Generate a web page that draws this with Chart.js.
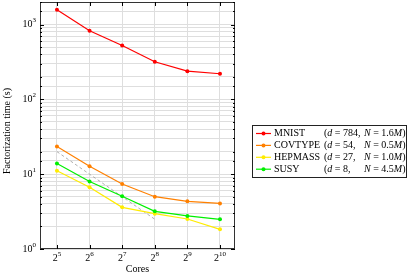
<!DOCTYPE html>
<html>
<head>
<meta charset="utf-8">
<script src="https://cdn.jsdelivr.net/npm/chart.js@4"></script>
<style>
  html, body { margin: 0; padding: 0; background: #fff; }
  #wrap { width: 415px; height: 276px; position: relative; }
</style>
</head>
<body>
<div id="wrap"><canvas id="chart" width="415" height="276"></canvas></div>
<script>
// cores are 2^n, n below
var coreExps = [5, 6, 7, 8, 9, 10];
var mnist   = [1570, 824, 525, 318, 238, 220];
var covtype = [23.4, 12.8, 7.4, 5.0, 4.33, 4.07];
var hepmass = [11.1, 6.7, 3.6, 2.97, 2.52, 1.83];
var susy    = [13.9, 8.0, 5.07, 3.19, 2.77, 2.49];
// ideal linear scaling reference
var idealExps = [5, 8];
var ideal     = [20, 2.5];
var yTickLabels = [1, 10, 100, 1000];

var seriesNames = ["MNIST", "COVTYPE", "HEPMASS", "SUSY"];
var seriesD = ["784", "54", "27", "8"];
var seriesN = ["1.6", "0.5", "1.0", "4.5"];
var seriesColors = ["rgb(255,0,0)", "rgb(255,128,0)", "rgb(255,236,0)", "rgb(0,240,0)"];

var SERIF = "'Liberation Serif', 'Times New Roman', serif";

function pts(xs, ys) {
   var out = [];
   for (var i = 0; i < xs.length; i++) out.push({ x: xs[i], y: ys[i] });
   return out;
}

function lineSet(label, data, color, order) {
   return {
      label: label,
      data: data,
      borderColor: color,
      backgroundColor: color,
      borderWidth: 1.2,
      pointRadius: 2,
      pointHoverRadius: 2,
      pointBorderWidth: 0,
      tension: 0,
      order: order
   };
}

// draw "base^exp" text, anchored by align at x
function drawPower(ctx, base, exp, x, y, align) {
   ctx.font = "10px " + SERIF;
   var wb = ctx.measureText(base).width;
   ctx.font = "7px " + SERIF;
   var we = ctx.measureText(exp).width;
   var w = wb + we;
   var x0 = align === "right" ? x - w : (align === "center" ? x - w / 2 : x);
   ctx.textAlign = "left";
   ctx.textBaseline = "middle";
   ctx.font = "10px " + SERIF;
   ctx.fillText(base, x0, y);
   ctx.font = "7px " + SERIF;
   ctx.fillText(exp, x0 + wb, y - 4);
}

// draw runs of [text, italic] pieces
function drawRuns(ctx, runs, x, y) {
   ctx.textAlign = "left";
   ctx.textBaseline = "middle";
   for (var i = 0; i < runs.length; i++) {
      ctx.font = (runs[i][1] ? "italic " : "") + "10px " + SERIF;
      ctx.fillText(runs[i][0], x, y);
      x += ctx.measureText(runs[i][0]).width;
   }
}

var decorPlugin = {
   id: "decor",
   afterDatasetsDraw: function (chart) {
      var ctx = chart.ctx;
      var a = chart.chartArea;
      var xs = chart.scales.x, ys = chart.scales.y;
      ctx.save();

      // frame
      ctx.strokeStyle = "#333";
      ctx.lineWidth = 1;
      ctx.strokeRect(a.left + 0.5, a.top + 0.5, a.right - a.left - 1, a.bottom - a.top - 1);

      // inward ticks
      ctx.strokeStyle = "#000";
      ctx.beginPath();
      ys.ticks.forEach(function (t) {
         var py = Math.round(ys.getPixelForValue(t.value)) + 0.5;
         var major = yTickLabels.indexOf(t.value) >= 0;
         var len = major ? 4 : 2;
         ctx.moveTo(a.left, py); ctx.lineTo(a.left + len, py);
         ctx.moveTo(a.right, py); ctx.lineTo(a.right - len, py);
      });
      xs.ticks.forEach(function (t) {
         var px = Math.round(xs.getPixelForValue(t.value)) + 0.5;
         ctx.moveTo(px, a.bottom); ctx.lineTo(px, a.bottom - 4);
         ctx.moveTo(px, a.top); ctx.lineTo(px, a.top + 4);
      });
      ctx.stroke();

      // tick labels
      ctx.fillStyle = "#000";
      yTickLabels.forEach(function (v) {
         var py = ys.getPixelForValue(v);
         drawPower(ctx, "10", String(Math.round(Math.log10(v))), a.left - 4, py, "right");
      });
      coreExps.forEach(function (e) {
         drawPower(ctx, "2", String(e), xs.getPixelForValue(e), a.bottom + 9, "center");
      });

      // axis titles
      ctx.font = "10px " + SERIF;
      ctx.textAlign = "center";
      ctx.textBaseline = "middle";
      ctx.fillText("Cores", (a.left + a.right) / 2, 269);
      ctx.save();
      ctx.translate(7, 131);
      ctx.rotate(-Math.PI / 2);
      ctx.fillText("Factorization time (s)", 0, 0);
      ctx.restore();

      // legend
      var lx = 252, ly = 125, lw = 154, lh = 52;
      ctx.fillStyle = "#fff";
      ctx.fillRect(lx, ly, lw, lh);
      ctx.strokeStyle = "#222";
      ctx.strokeRect(lx + 0.5, ly + 0.5, lw, lh);
      for (var i = 0; i < seriesNames.length; i++) {
         var ry = 133.5 + i * 11.9;
         ctx.strokeStyle = seriesColors[i];
         ctx.lineWidth = 1.2;
         ctx.beginPath();
         ctx.moveTo(256, ry); ctx.lineTo(271, ry);
         ctx.stroke();
         ctx.fillStyle = seriesColors[i];
         ctx.beginPath();
         ctx.arc(263.5, ry, 2, 0, Math.PI * 2);
         ctx.fill();
         ctx.fillStyle = "#000";
         drawRuns(ctx, [[seriesNames[i], false]], 274, ry);
         drawRuns(ctx, [["(", false], ["d", true], [" = " + seriesD[i] + ",", false]], 324, ry);
         drawRuns(ctx, [["N", true], [" = " + seriesN[i], false], ["M", true], [")", false]], 364, ry);
      }
      ctx.restore();
   }
};

var ctx = document.getElementById("chart").getContext("2d");
var chart = new Chart(ctx, {
   type: "line",
   data: {
      datasets: [
         lineSet("MNIST", pts(coreExps, mnist), seriesColors[0], 4),
         lineSet("COVTYPE", pts(coreExps, covtype), seriesColors[1], 3),
         lineSet("HEPMASS", pts(coreExps, hepmass), seriesColors[2], 2),
         lineSet("SUSY", pts(coreExps, susy), seriesColors[3], 1),
         {
            label: "ideal",
            data: pts(idealExps, ideal),
            borderColor: "#9a9a9a",
            borderWidth: 0.8,
            borderDash: [3, 2.5],
            pointRadius: 0,
            tension: 0,
            order: 5
         }
      ]
   },
   options: {
      responsive: false,
      animation: false,
      events: [],
      layout: { padding: { left: 40, top: 1, right: 180, bottom: 27 } },
      plugins: { legend: { display: false }, tooltip: { enabled: false } },
      scales: {
         x: {
            type: "linear",
            min: 4.48,
            max: 10.46,
            afterBuildTicks: function (scale) {
               scale.ticks = coreExps.map(function (v) { return { value: v }; });
            },
            grid: { color: "#dedede", lineWidth: 1, drawTicks: false },
            border: { display: false },
            ticks: { display: false }
         },
         y: {
            type: "logarithmic",
            min: 1,
            max: 2000,
            grid: { color: "#dedede", lineWidth: 1, drawTicks: false },
            border: { display: false },
            ticks: { display: false, autoSkip: false }
         }
      }
   },
   plugins: [decorPlugin]
});
</script>
</body>
</html>
